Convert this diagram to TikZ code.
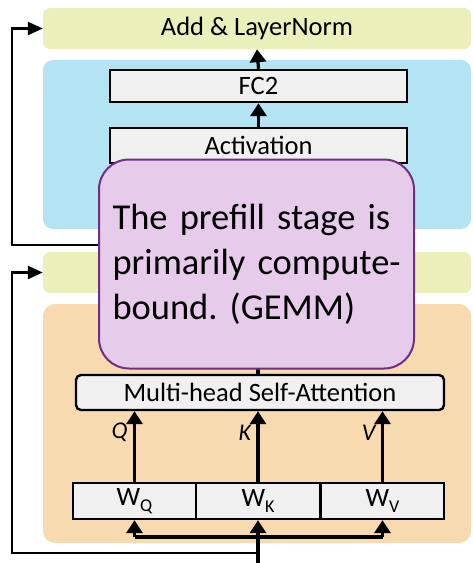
\documentclass[tikz,border=0pt]{standalone}
\usepackage{fontspec}
\setmainfont{Carlito}
\usetikzlibrary{arrows.meta}
\definecolor{addc}{RGB}{235,240,186}
\definecolor{ffnc}{RGB}{180,228,243}
\definecolor{attc}{RGB}{248,218,176}
\definecolor{grayc}{RGB}{240,240,240}
\definecolor{purf}{RGB}{230,204,234}
\definecolor{purd}{RGB}{112,48,130}
\newcommand{\wsub}[1]{W\raisebox{-0.25em}{\fontsize{18}{18}\selectfont #1}}
\tikzset{
  panel/.style={fill=#1, draw=none, rounded corners=10pt, inner sep=0pt},
  normbox/.style={fill=addc, draw=none, rounded corners=7pt, inner sep=0pt, minimum width=428pt, minimum height=41pt, font=\fontsize{26.5}{30}\selectfont},
  graybox/.style={fill=grayc, draw=black, line width=2.4pt, inner sep=0pt, font=\fontsize{26.5}{30}\selectfont},
  arr/.style={line width=3.2pt, -{Triangle[length=13pt,width=16pt]}},
  plain/.style={line width=3.2pt},
  skip/.style={line width=2.3pt, -{Triangle[length=15pt,width=13pt]}},
  lbl/.style={font=\fontsize{24}{26}\selectfont\itshape},
  note/.style={fill=purf, draw=purd, line width=2pt, rounded corners=30pt, minimum width=315pt, minimum height=209pt, inner sep=0pt, align=left, text width=288pt, font=\fontsize{36.5}{45}\selectfont\frenchspacing}
}
\begin{document}
\begin{tikzpicture}[x=1pt,y=-1pt]
\useasboundingbox (0,0) rectangle (472,563);
% panels
\node[normbox] (addtop) at (257,28.5) {Add \& LayerNorm};
\node[panel=ffnc, minimum width=428pt, minimum height=169pt] (ffn) at (257,144.5) {};
\node[normbox] (addlow) at (257,272.5) {};
\node[panel=attc, rounded corners=12pt, minimum width=428pt, minimum height=239pt] (att) at (257,423.5) {};
% boxes
\node[graybox, minimum width=297pt, minimum height=32pt] (fc2) at (258.5,86) {FC2};
\node[graybox, minimum width=297pt, minimum height=35pt] (act) at (258.5,145.5) {Activation};
\node[graybox, rounded corners=5pt, minimum width=368pt, minimum height=35pt] (mhsa) at (260,392.5) {Multi-head Self-Attention};
\node[graybox, minimum width=123pt, minimum height=36pt] (wq) at (134.5,501) {\wsub{Q}};
\node[graybox, minimum width=124pt, minimum height=36pt] (wk) at (258,501) {\wsub{K}};
\node[graybox, minimum width=123pt, minimum height=36pt] (wv) at (382.5,501) {\wsub{V}};
% coordinates
\coordinate (s1) at (258,245);
\coordinate (c1) at (12,28.5);
\coordinate (in) at (258,563);
\coordinate (bus) at (258,537);
\coordinate (s2) at (258,553);
\coordinate (c2) at (12,272.5);
% connectors
\draw[arr] (fc2.north) -- (addtop.south);
\draw[arr] (act.north) -- (fc2.south);
\draw[arr] (addlow.north -| act.south) -- (act.south);
\draw[skip] (s1) -| (c1) -- (addtop.west);
\draw[plain] (wk.north |- mhsa.north) -- (wk.north |- addlow.south);
\draw[arr] (wq.north) -- node[lbl, left=2pt, pos=0.7] {Q} (wq.north |- mhsa.south);
\draw[arr] (wk.north) -- node[lbl, left=2pt, pos=0.7] {K} (wk.north |- mhsa.south);
\draw[arr] (wv.north) -- node[lbl, left=2pt, pos=0.7] {V} (wv.north |- mhsa.south);
\draw[plain] (wq.south |- bus) -- (wv.south |- bus);
\draw[arr] (wq.south |- bus) -- (wq.south);
\draw[arr] (wv.south |- bus) -- (wv.south);
\draw[arr] (in) -- (wk.south);
\draw[skip] (s2) -| (c2) -- (addlow.west);
% note
\node[note] (note) at (256.5,264) {\mbox{The prefill stage is}\\\mbox{primarily compute-}\\\mbox{bound. (GEMM)}};
\end{tikzpicture}
\end{document}
